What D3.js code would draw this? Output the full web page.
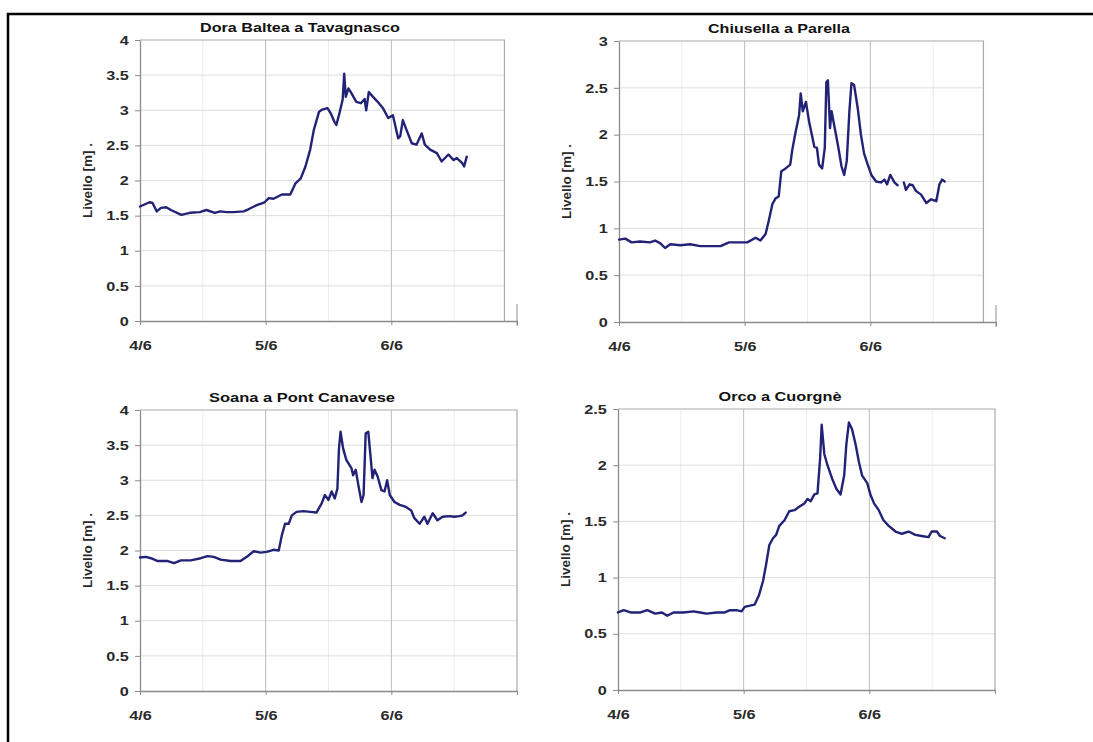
<!DOCTYPE html>
<html><head><meta charset="utf-8">
<script src="https://cdn.jsdelivr.net/npm/d3@7"></script>
<style>
body{margin:0;background:#fff}
svg{display:block}
text{font-family:"Liberation Sans",Arial,sans-serif}
</style>
</head><body>
<svg id="chart" width="1093" height="742"></svg>
<script>
// ---------------- DATA ----------------
const titles = ["Dora Baltea a Tavagnasco", "Chiusella a Parella", "Soana a Pont Canavese", "Orco a Cuorgnè"];
const yMaxes = [4, 3, 4, 2.5];
const xTickHours = [0, 24, 48, 72];
const xTickLabels = ["4/6", "5/6", "6/6", ""];
const yLabel = "Livello [m] .";

// hours from 4/6 00:00, level in metres
const doraHours = [0,1.8,2.4,3.2,4.0,5.0,5.9,7.9,9.5,11.4,12.7,14.3,15.3,16.6,17.8,19.8,20.7,22.3,23.8,24.6,25.5,27.1,28.7,29.7,30.7,31.6,32.5,33.2,34.2,34.8,35.8,36.4,37.1,37.5,38.0,38.7,39.0,39.3,39.8,40.4,41.3,42.2,42.9,43.2,43.7,44.5,45.4,46.4,47.4,48.3,49.3,49.7,50.2,50.9,51.9,52.8,53.8,54.4,55.4,56.7,57.6,58.9,59.9,60.5,61.5,61.9,62.4];
const doraLevel = [1.63,1.69,1.68,1.56,1.61,1.62,1.58,1.51,1.54,1.55,1.58,1.54,1.56,1.55,1.55,1.56,1.59,1.65,1.69,1.75,1.74,1.80,1.80,1.96,2.03,2.20,2.44,2.72,2.98,3.01,3.03,2.96,2.84,2.79,2.93,3.15,3.52,3.19,3.31,3.24,3.12,3.10,3.16,3.00,3.26,3.19,3.12,3.03,2.89,2.93,2.60,2.63,2.86,2.72,2.53,2.51,2.67,2.51,2.44,2.39,2.27,2.37,2.29,2.32,2.25,2.20,2.34];

const chiusellaHours = [0,1.2,2.4,4.0,5.9,6.9,7.9,8.8,9.8,11.7,13.6,15.5,17.4,19.4,21.0,22.6,24.5,26.1,27.0,28.0,28.6,29.3,29.9,30.5,31.0,31.6,32.7,33.1,33.7,34.4,34.7,35.1,35.7,36.3,36.9,37.3,37.8,38.2,38.8,39.3,39.6,39.9,40.3,40.6,41.1,41.9,42.5,43.0,43.5,44.0,44.4,44.9,45.6,46.2,46.8,47.5,48.2,49.1,50.0,50.7,51.2,51.8,52.6,53.2,53.7,54.4,54.8,55.5,56.1,56.7,57.7,58.7,59.6,60.6,61.2,61.7,62.2];
const chiusellaLevel = [0.88,0.89,0.85,0.86,0.85,0.87,0.84,0.79,0.83,0.82,0.83,0.81,0.81,0.81,0.85,0.85,0.85,0.90,0.87,0.94,1.08,1.26,1.32,1.34,1.61,1.63,1.68,1.84,2.02,2.21,2.44,2.25,2.35,2.14,1.98,1.87,1.86,1.68,1.64,1.86,2.56,2.58,2.07,2.25,2.10,1.86,1.66,1.57,1.72,2.25,2.55,2.53,2.28,2.00,1.80,1.68,1.57,1.50,1.49,1.52,1.47,1.57,1.49,1.46,null,1.49,1.41,1.47,1.46,1.40,1.36,1.27,1.31,1.29,1.47,1.52,1.50];

const soanaHours = [0,1.1,2.1,3.4,5.3,6.5,7.8,9.7,11.6,12.9,14.1,15.4,17.3,19.2,20.4,21.7,23.0,24.2,25.5,26.5,27.1,27.7,28.4,29.0,29.9,31.2,32.5,33.7,34.7,35.3,36.0,36.6,37.2,37.7,38.0,38.3,38.8,39.4,40.4,40.7,41.2,41.7,42.3,42.7,43.1,43.6,44.0,44.4,44.8,45.4,46.1,46.7,47.2,47.7,48.6,49.6,50.8,51.8,52.4,53.4,54.3,54.9,55.9,56.8,57.8,59.1,60.0,61.0,61.6,62.2];
const soanaLevel = [1.90,1.91,1.89,1.85,1.85,1.82,1.86,1.86,1.89,1.92,1.91,1.87,1.85,1.85,1.91,1.99,1.97,1.98,2.01,2.00,2.22,2.38,2.38,2.50,2.55,2.56,2.55,2.54,2.67,2.79,2.72,2.84,2.74,2.88,3.45,3.69,3.45,3.29,3.17,3.07,3.15,2.93,2.69,2.79,3.67,3.69,3.36,3.03,3.15,3.05,2.86,2.84,3.00,2.79,2.69,2.65,2.62,2.57,2.46,2.38,2.48,2.38,2.53,2.43,2.48,2.49,2.48,2.49,2.50,2.54];

const orcoHours = [0,1.1,2.4,4.3,5.6,7.1,8.4,9.4,10.6,12.5,14.4,15.7,16.9,18.8,20.4,21.4,22.6,23.6,24.2,25.2,26.1,26.9,27.7,28.3,28.9,29.6,30.2,30.8,31.8,32.7,33.7,34.6,35.6,36.2,36.8,37.5,38.1,38.6,38.9,39.4,40.0,40.9,41.7,42.5,43.2,43.6,44.1,44.7,45.4,46.0,46.6,47.6,48.2,48.9,49.8,50.7,51.7,53.0,54.2,55.5,56.8,58.0,59.3,59.9,60.9,61.5,62.4];
const orcoLevel = [0.69,0.71,0.69,0.69,0.71,0.68,0.69,0.66,0.69,0.69,0.70,0.69,0.68,0.69,0.69,0.71,0.71,0.70,0.74,0.75,0.76,0.84,0.97,1.12,1.29,1.35,1.38,1.46,1.51,1.59,1.60,1.63,1.66,1.70,1.68,1.74,1.75,2.06,2.36,2.10,2.00,1.88,1.79,1.74,1.91,2.18,2.38,2.32,2.18,2.03,1.91,1.84,1.74,1.66,1.60,1.51,1.46,1.41,1.39,1.41,1.38,1.37,1.36,1.41,1.41,1.37,1.35];

// ---------------- LAYOUT ----------------
const series = [
  [doraHours, doraLevel],
  [chiusellaHours, chiusellaLevel],
  [soanaHours, soanaLevel],
  [orcoHours, orcoLevel]
];
const layout = [
  {left: 140, top: 40, frameEnd: 69.6, titleX: 300, titleLen: 200},
  {left: 619, top: 41, frameEnd: 69.6, titleX: 779, titleLen: 142},
  {left: 140, top: 410, frameEnd: 72, titleX: 302, titleLen: 186},
  {left: 618, top: 409, frameEnd: 72, titleX: 780, titleLen: 123}
];
const W = 377, H = 281;
const SX = 1.25; // horizontal stretch of the original raster text
const FONT = "'Liberation Sans', Arial, sans-serif";

const svg = d3.select("#chart");

// outer frame
svg.append("path")
  .attr("d", "M8,742V14H1093")
  .attr("fill", "none").attr("stroke", "#000").attr("stroke-width", 2.5);

const line = d3.line().defined(d => d[1] != null);

series.forEach((s, i) => {
  const L = layout[i];
  const yMax = yMaxes[i];
  const x = d3.scaleLinear().domain([0, 72]).range([L.left, L.left + W]);
  const y = d3.scaleLinear().domain([0, yMax]).range([L.top + H, L.top]);
  const g = svg.append("g");
  const yTicks = d3.range(0, yMax + 0.001, 0.5);
  const xEnd = x(L.frameEnd);

  // minor vertical grid (noon)
  g.selectAll(".minor").data([12, 36, 60]).join("line")
    .attr("x1", d => x(d)).attr("x2", d => x(d))
    .attr("y1", y(yMax)).attr("y2", y(0))
    .attr("stroke", "#ececec").attr("stroke-width", 1);
  // horizontal grid
  g.selectAll(".hg").data(yTicks.filter(v => v > 0 && v < yMax)).join("line")
    .attr("x1", x(0)).attr("x2", xEnd)
    .attr("y1", d => y(d)).attr("y2", d => y(d))
    .attr("stroke", "#dedede").attr("stroke-width", 1);
  // major vertical grid
  g.selectAll(".vg").data([24, 48]).join("line")
    .attr("x1", d => x(d)).attr("x2", d => x(d))
    .attr("y1", y(yMax)).attr("y2", y(0))
    .attr("stroke", "#bcbcbc").attr("stroke-width", 1);
  // plot-area frame top & right
  g.append("path")
    .attr("d", `M${x(0)},${y(yMax)}H${xEnd}V${y(0)}`)
    .attr("fill", "none").attr("stroke", "#a9a9a9").attr("stroke-width", 1.2);
  if (L.frameEnd < 72) {
    g.append("line")
      .attr("x1", x(72)).attr("x2", x(72))
      .attr("y1", y(0) - 17).attr("y2", y(0) + 5)
      .attr("stroke", "#a0a0a0").attr("stroke-width", 1.2);
  }

  // y axis
  const ya = g.append("g").attr("transform", `translate(${x(0)},0)`)
    .call(d3.axisLeft(y).tickValues(yTicks).tickSize(5).tickSizeOuter(0).tickPadding(4)
      .tickFormat(d3.format("~g")));
  ya.select(".domain").attr("stroke", "#8a8a8a").attr("stroke-width", 1.3);
  ya.selectAll(".tick line").attr("stroke", "#8a8a8a");
  ya.selectAll(".tick text").attr("fill", "#2a2a2a").attr("font-size", 13)
    .attr("font-weight", "bold").attr("font-family", FONT)
    .attr("transform", `scale(${SX},1)`);

  // x axis
  const xa = g.append("g").attr("transform", `translate(0,${y(0)})`)
    .call(d3.axisBottom(x).tickValues(xTickHours).tickSize(4).tickSizeOuter(0).tickPadding(16)
      .tickFormat((d, k) => xTickLabels[k]));
  xa.select(".domain").attr("stroke", "#8a8a8a").attr("stroke-width", 1.3);
  xa.selectAll(".tick line").attr("stroke", "#8a8a8a");
  xa.selectAll(".tick text").attr("fill", "#2a2a2a").attr("font-size", 13)
    .attr("font-weight", "bold").attr("font-family", FONT)
    .attr("transform", `scale(${SX},1)`);

  // series line
  const pts = s[0].map((h, k) => [h, s[1][k]]);
  g.append("path")
    .attr("d", line.x(d => x(d[0])).y(d => y(d[1]))(pts))
    .attr("fill", "none").attr("stroke", "#222277").attr("stroke-width", 2.4)
    .attr("stroke-linejoin", "round").attr("stroke-linecap", "round");

  // title
  g.append("text")
    .attr("x", L.titleX - L.titleLen / 2).attr("y", L.top - 13).attr("dy", "0.35em")
    .attr("font-size", 13).attr("font-weight", "bold").attr("fill", "#111")
    .attr("textLength", L.titleLen).attr("lengthAdjust", "spacingAndGlyphs")
    .text(titles[i]);

  // y label
  g.append("text")
    .attr("transform", `translate(${x(0) - 53},${L.top + H / 2}) rotate(-90)`)
    .attr("text-anchor", "middle").attr("dy", "0.35em")
    .attr("font-size", 13.5).attr("font-weight", "bold").attr("fill", "#2a2a2a")
    .text(yLabel);
});
</script>
</body></html>
